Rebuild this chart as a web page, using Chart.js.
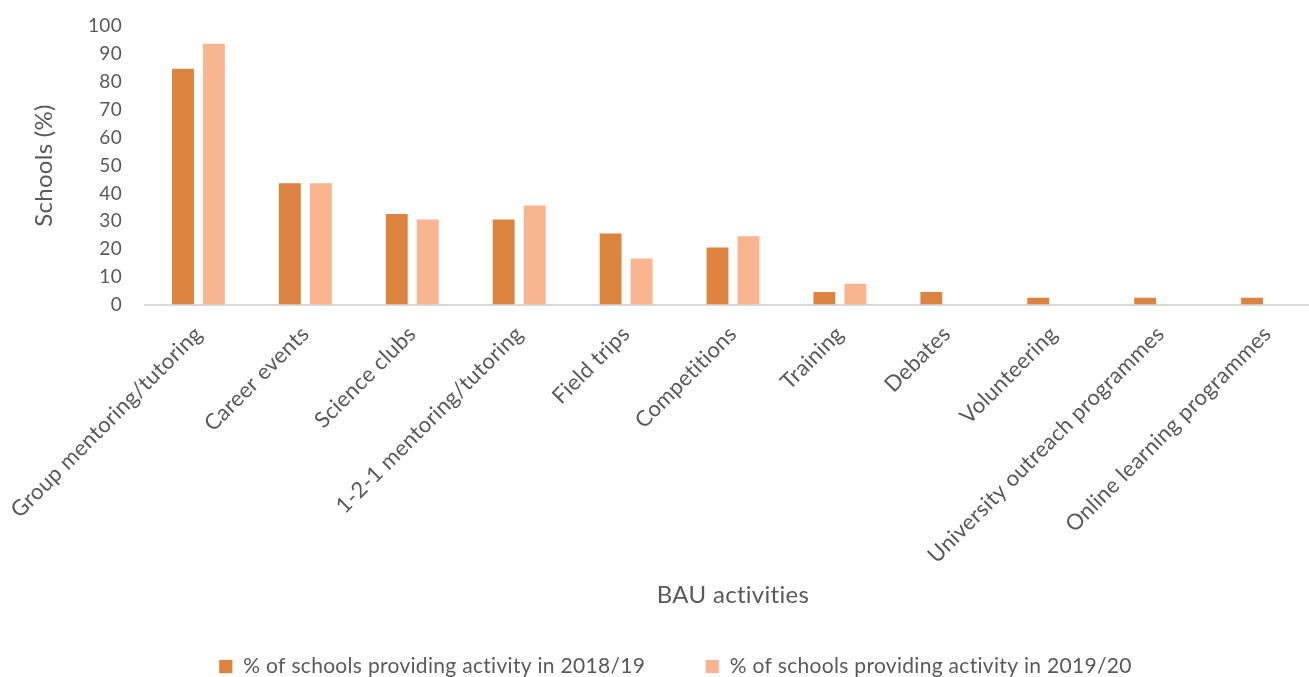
<!DOCTYPE html>
<html>
<head>
<meta charset="utf-8">
<script src="https://cdn.jsdelivr.net/npm/chart.js@4"></script>
<style>
    html, body { margin: 0; padding: 0; background: #fff; overflow: hidden; }
    #bauChart { display: block; }
</style>
</head>
<body>
<canvas id="bauChart" width="1356" height="677"></canvas>
<script>
// Atividades BAU por escola, dois anos lado a lado
const activities = [
    'Group mentoring/tutoring', 'Career events', 'Science clubs', '1-2-1 mentoring/tutoring',
    'Field trips', 'Competitions', 'Training', 'Debates', 'Volunteering',
    'University outreach programmes', 'Online learning programmes'
];
const schools1819 = [85, 44, 33, 31, 26, 21, 5, 5, 3, 3, 3];
const schools1920 = [94, 44, 31, 36, 17, 25, 8, 0, 0, 0, 0];
const yTicks = [0, 10, 20, 30, 40, 50, 60, 70, 80, 90, 100];

const textClr = '#595959';
const fontFamily = 'Lato, "Noto Sans", sans-serif';
const zeroLineY = 305; // posição do eixo x no canvas
const legendPad = 60;

// evita as ligaduras "ti" da Lato
const noLigatures = {
    id: 'noLigatures',
    beforeDraw: (chart) => { chart.ctx.letterSpacing = '0.3px'; }
};

// ajuste fino da posição da legenda
const legendNudge = {
    id: 'legendNudge',
    afterLayout: (chart) => {
        const lg = chart.legend;
        lg.left -= 15; lg.right -= 15;
        lg.top += 10; lg.bottom += 10;
    }
};

document.addEventListener('DOMContentLoaded', () => {
    const ctx = document.getElementById('bauChart');
    new Chart(ctx, {
        type: 'bar',
        data: {
            labels: activities,
            datasets: [{
                label: '% of schools providing activity in 2018/19',
                data: schools1819,
                backgroundColor: '#DC843F',
                borderColor: 'rgba(255,255,255,0.7)',
                borderWidth: 1,
                categoryPercentage: 0.58,
                barPercentage: 0.77
            }, {
                label: '% of schools providing activity in 2019/20',
                data: schools1920,
                backgroundColor: '#F8B590',
                borderColor: 'rgba(255,255,255,0.7)',
                borderWidth: 1,
                categoryPercentage: 0.58,
                barPercentage: 0.77
            }]
        },
        plugins: [noLigatures, legendNudge],
        options: {
            responsive: false,
            animation: false,
            layout: { padding: { top: 26, left: 0, right: 0, bottom: 0 } },
            plugins: {
                legend: {
                    position: 'bottom',
                    labels: {
                        color: textClr,
                        font: { family: fontFamily, size: 21 },
                        boxWidth: 14,
                        boxHeight: 14,
                        padding: legendPad
                    }
                },
                tooltip: { enabled: false }
            },
            scales: {
                x: {
                    grid: { display: false },
                    border: { display: true, color: '#D9D9D9', width: 2 },
                    ticks: {
                        color: textClr,
                        font: { family: fontFamily, size: 22 },
                        minRotation: 45,
                        maxRotation: 45,
                        autoSkip: false,
                        padding: 8
                    },
                    title: {
                        display: true,
                        text: 'BAU activities',
                        color: textClr,
                        font: { family: fontFamily, size: 24 },
                        padding: { top: 0, bottom: -24 }
                    },
                    afterFit: (scale) => {
                        scale.height = scale.chart.height - zeroLineY - scale.chart.legend.height;
                    }
                },
                y: {
                    min: 0,
                    max: 100,
                    // marcas invisíveis só para afastar os rótulos do eixo
                    grid: {
                        display: true,
                        drawOnChartArea: false,
                        drawTicks: true,
                        tickLength: 20,
                        color: 'rgba(0,0,0,0)'
                    },
                    border: { display: false },
                    afterBuildTicks: (scale) => {
                        scale.ticks = yTicks.map(v => ({ value: v }));
                    },
                    ticks: {
                        color: textClr,
                        font: { family: fontFamily, size: 19 },
                        autoSkip: false,
                        padding: 3
                    },
                    title: {
                        display: true,
                        text: 'Schools (%)',
                        color: textClr,
                        font: { family: fontFamily, size: 24 },
                        padding: { top: 30, bottom: 0 }
                    },
                    afterFit: (scale) => { scale.width = 145; }
                },
                // espaço vazio à direita do gráfico
                spacer: {
                    position: 'right',
                    display: true,
                    grid: { display: false },
                    border: { display: false },
                    ticks: { display: false },
                    afterFit: (scale) => { scale.width = 35; }
                }
            }
        }
    });
});
</script>
</body>
</html>
